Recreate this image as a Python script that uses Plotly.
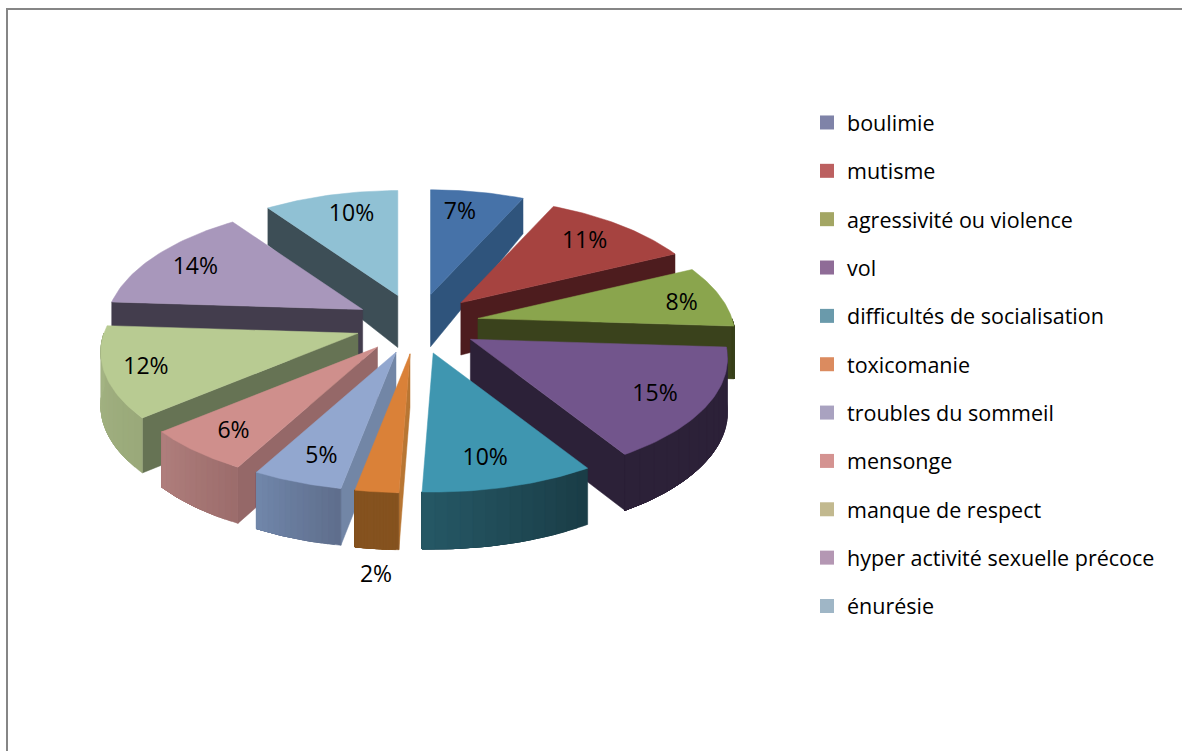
import numpy as np
import plotly.graph_objects as go

# ---- data ----
labels = ["boulimie", "mutisme", "agressivité ou violence", "vol",
          "difficultés de socialisation", "toxicomanie", "troubles du sommeil",
          "mensonge", "manque de respect", "hyper activité sexuelle précoce", "énurésie"]
# slices run clockwise from 12 o'clock; percentages
slice_values = [7, 11, 8, 15, 9.6, 2.4, 5, 6, 12, 14, 10]

# ---- styles ----
top_colors = ["#4672A8", "#A64340", "#8AA54D", "#72558C", "#3F96B0", "#DA8138",
              "#92A7CF", "#CF8F8C", "#B8CB92", "#A897BB", "#90C1D4"]
wall_colors = ["#2F547C", "#4D1C1E", "#3A421C", "#2C2138", "#1F4A56", "#B87633",
               "#7286A6", "#956868", "#667354", "#433D4D", "#3D4E56"]
side_left = ["#2F547C", "#4D1C1E", "#3A421C", "#2C2138", "#265866", "#85521F",
             "#7187AB", "#B07F7D", "#A5B585", "#433D4D", "#3D4E56"]
side_right = ["#2F547C", "#4D1C1E", "#3A421C", "#2C2138", "#1A3C46", "#85521F",
              "#5F6E8C", "#9C6D6C", "#9AA97A", "#433D4D", "#3D4E56"]
legend_colors = ["#7F83A8", "#BC6060", "#A3A664", "#8F6C97", "#6A9AAB", "#DB8B5F",
                 "#A9A2C0", "#D49391", "#C2B98F", "#B497B3", "#9FB6C6"]
label_shift = [(-6, -4), (5, -2.5), (28, 2.5), (18, 8.5), (-1, 13), (-11, 126.5),
               (-6, 14.5), (-17, 12.5), (-32, 6.5), (-16, -1.5), (4, -4.5)]

CX, CY = 417, 324          # pie centre on the page
EX, EY = 62, 30            # explosion distance
RX, RY = 254, 122          # rim radii
PERSP_X, PERSP_Y = 0.16, 0.14   # perspective strength
LABEL_R = 0.72
FONT = "Open Sans"


def depth(y):
    return np.interp(y, [190, 293, 420, 495], [34, 52, 55, 57])


def rgb(h):
    return np.array([int(h[i:i + 2], 16) for i in (1, 3, 5)], float)


def mix(a, b, f):
    c = rgb(a) * (1 - f) + rgb(b) * f
    return "rgb(%d,%d,%d)" % tuple(c)


def pt(apex, r, deg):
    t = np.radians(deg)
    xr, yr = r * np.sin(t), -r * np.cos(t)
    return (apex[0] + RX * xr * (1 + PERSP_X * yr),
            apex[1] + RY * yr * (1 + PERSP_Y * yr))


def poly(fig, xs, ys, color):
    fig.add_trace(go.Scatter(x=list(xs) + [xs[0]], y=list(ys) + [ys[0]], mode="lines",
                             fill="toself", fillcolor=color,
                             line=dict(color=color, width=0.5),
                             hoverinfo="skip", showlegend=False))


cum = np.cumsum([0] + slice_values) * 3.6
slices = []
for i in range(len(slice_values)):
    t0, t1 = cum[i], cum[i + 1]
    m = np.radians((t0 + t1) / 2)
    slices.append(dict(i=i, t0=t0, t1=t1, m=m,
                       apex=(CX + EX * np.sin(m), CY - EY * np.cos(m))))

fig = go.Figure()
text_x, text_y, text_s = [], [], []
for s in sorted(slices, key=lambda d: np.cos(d["m"]), reverse=True):
    i, t0, t1, apex = s["i"], s["t0"], s["t1"], s["apex"]

    # radial walls facing the viewer
    for tw, vis in ((t0, np.sin(np.radians(t0)) < -1e-6), (t1, np.sin(np.radians(t1)) > 1e-6)):
        if vis:
            px, py = pt(apex, 1, tw)
            poly(fig, [apex[0], px, px, apex[0]],
                 [apex[1], py, py + depth(py), apex[1] + depth(apex[1])], wall_colors[i])

    # outer rim wall, shaded left to right; each band runs to the end so no seams show
    a0, a1 = max(t0, 90), min(t1, 270)
    if a1 > a0:
        edges = np.linspace(a0, a1, 15)
        for k in range(len(edges) - 1):
            seg = np.linspace(edges[k], a1, 30)
            xs, ys = zip(*[pt(apex, 1, a) for a in seg])
            ybot = [y + depth(y) for y in ys]
            f = (k + 0.5) / (len(edges) - 1)
            poly(fig, list(xs) + list(xs[::-1]), list(ys) + ybot[::-1],
                 mix(side_right[i], side_left[i], f))

    # top face
    arc = np.linspace(t0, t1, 40)
    xs, ys = zip(*[pt(apex, 1, a) for a in arc])
    poly(fig, [apex[0]] + list(xs), [apex[1]] + list(ys), top_colors[i])

    lx, ly = pt(apex, LABEL_R, (t0 + t1) / 2)
    text_x.append(lx + label_shift[i][0])
    text_y.append(ly + label_shift[i][1])
    text_s.append("%d%%" % round(slice_values[i]))

fig.add_trace(go.Scatter(x=text_x, y=text_y, text=text_s, mode="text",
                         textfont=dict(family=FONT, size=23, color="#000000"),
                         hoverinfo="skip", showlegend=False))

for name, col in zip(labels, legend_colors):
    fig.add_trace(go.Scatter(x=[None], y=[None], mode="markers", name=name, legendgroup=name,
                             marker=dict(symbol="square", size=14, color=col)))

fig.update_layout(
    width=1182, height=751, margin=dict(l=0, r=0, t=0, b=0),
    paper_bgcolor="white", plot_bgcolor="white",
    xaxis=dict(range=[0, 1182], visible=False, fixedrange=True),
    yaxis=dict(range=[751, 0], visible=False, fixedrange=True),
    legend=dict(x=807 / 1182, y=1 - 102 / 751, xanchor="left", yanchor="top",
                font=dict(family=FONT, size=21.5, color="#000000"),
                tracegroupgap=17.4, bgcolor="rgba(0,0,0,0)", itemclick=False, itemdoubleclick=False),
    shapes=[
        dict(type="line", xref="paper", yref="paper", x0=7 / 1182, x1=7 / 1182, y0=0, y1=1 - 9 / 751,
             line=dict(color="#868686", width=2)),
        dict(type="line", xref="paper", yref="paper", x0=6 / 1182, x1=1, y0=1 - 9 / 751, y1=1 - 9 / 751,
             line=dict(color="#868686", width=2)),
    ],
)

fig.write_html("out.html", config=dict(displayModeBar=False),
               post_script="document.body.style.margin='0';")
